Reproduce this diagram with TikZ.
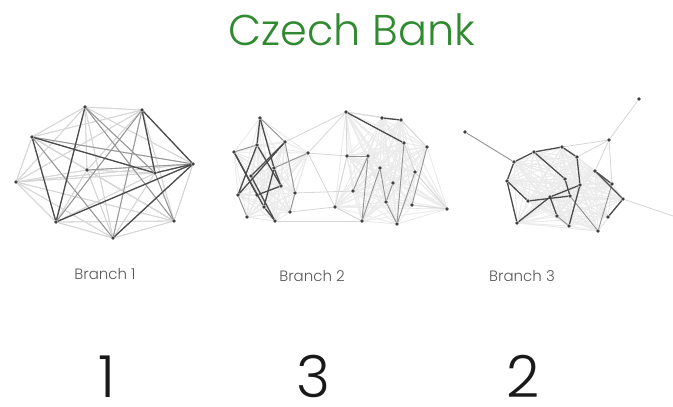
\documentclass[tikz,border=0pt]{standalone}
\usepackage{fontspec}
\setmainfont{Poppins}[UprightFont={* Light}]
\usepackage{tikz}
\usetikzlibrary{backgrounds}
\definecolor{bankgreen}{RGB}{48,138,48}
\tikzset{
    vert/.style = {circle, fill=black!75, inner sep=0pt, minimum size=3.8pt},
    faint-edge/.style = {draw=black!16, line width=0.8pt},
    ghost-edge/.style = {draw=black!8, line width=0.6pt},
    mid-edge/.style = {draw=black!42, line width=0.9pt},
    hard-edge/.style = {draw=black!70, line width=1.3pt},
    branch-label/.style = {text=black!65, font=\fontsize{15}{17}\selectfont},
    rank-label/.style = {text=black!90, anchor=base, inner sep=0pt, font=\fontsize{58}{62}\selectfont},
}

\begin{document}
\begin{tikzpicture}[x=1pt,y=-1pt]
\useasboundingbox (0,0) rectangle (673,407);
\node[text=bankgreen, font=\fontsize{43}{47}\selectfont] (title) at (352,30) {Czech Bank};

% branch 1
\foreach \n/\x/\y in {a1/85/107, b1/142/110, c1/32/137, d1/193/164, e1/87/170,
    f1/155/173, g1/16/182, h1/56/222, i1/174/221, j1/113/238}
    \node[vert] (\n) at (\x,\y) {};

% branch 2, left group
\foreach \n/\x/\y in {p1/260/118, p2/257/145, p3/285/142, p4/234/152, p5/308/153,
    p6/274/168, p7/251/176, p8/281/186, p9/238/195, p10/257/195, p11/295/193,
    p12/264/207, p13/290/212, p14/247/217, p15/275/221}
    \node[vert] (\n) at (\x,\y) {};
% branch 2, right group
\foreach \n/\x/\y in {q1/346/112, q2/382/118, q3/401/120, q4/404/143, q5/427/147,
    q6/347/156, q7/368/156, q8/380/168, q9/415/172, q10/393/183, q11/353/191,
    q12/386/202, q13/412/205, q14/335/207, q15/362/221, q16/397/224, q17/447/209}
    \node[vert] (\n) at (\x,\y) {};

% branch 3
\foreach \n/\x/\y in {r1/465/132, r2/639/99, r3/609/140, r4/514/162, r5/534/152,
    r6/562/147, r7/577/157, r8/507/181, r9/595/171, r10/565/179, r11/580/185,
    r12/612/184, r13/528/201, r14/570/196, r15/550/197, r16/623/199, r17/557/216,
    r18/608/217, r19/517/223, r20/569/226, r21/598/231}
    \node[vert] (\n) at (\x,\y) {};
\coordinate (r-out) at (676,217);

\begin{scope}[on background layer]
\fill[white] (0,0) rectangle (673,407);
% light links inside each group
\foreach \u in {a1,b1,c1,d1,e1,f1,g1,h1,i1,j1}
    \foreach \v in {a1,b1,c1,d1,e1,f1,g1,h1,i1,j1}
        {\ifx\u\v\else\draw[faint-edge] (\u) -- (\v);\fi}
\foreach \u in {p1,p2,p3,p4,p5,p6,p7,p8,p9,p10,p11,p12,p13,p14,p15}
    \foreach \v in {p1,p2,p3,p4,p5,p6,p7,p8,p9,p10,p11,p12,p13,p14,p15}
        {\ifx\u\v\else\draw[ghost-edge] (\u) -- (\v);\fi}
\foreach \u in {q1,q2,q3,q4,q5,q6,q7,q8,q9,q10,q11,q12,q13,q14,q15,q16,q17}
    \foreach \v in {q1,q2,q3,q4,q5,q6,q7,q8,q9,q10,q11,q12,q13,q14,q15,q16,q17}
        {\ifx\u\v\else\draw[ghost-edge] (\u) -- (\v);\fi}
\foreach \u in {r4,r5,r6,r7,r8,r9,r10,r11,r12,r13,r14,r15,r16,r17,r18,r19,r20,r21}
    \foreach \v in {r4,r5,r6,r7,r8,r9,r10,r11,r12,r13,r14,r15,r16,r17,r18,r19,r20,r21}
        {\ifx\u\v\else\draw[ghost-edge] (\u) -- (\v);\fi}
\foreach \u/\v in {p5/q1, p5/q6, p5/q14, p13/q14, p11/q11, p15/q15, p3/q1,
    q1/q6, q1/q3, q3/q5, q4/q9, q9/q17, q13/q17, q14/q15, q6/q14,
    r3/r6, r3/r9, r3/r12, r3/r7, r2/r3, r16/r-out}
    \draw[faint-edge] (\u) -- (\v);

% heavier links
\foreach \u/\v in {b1/h1, b1/j1, c1/j1, a1/i1, a1/f1, e1/d1, f1/i1, c1/d1,
    p5/p6, p3/p11, p1/p3, p9/p14, p4/p2, p11/p13,
    q6/q7, q7/q15, q8/q12, q5/q13, q9/q16, q7/q11, q8/q15, q10/q12, q12/q16, q4/q16,
    r1/r4, r14/r21, r17/r20, r12/r21}
    \draw[mid-edge] (\u) -- (\v);
\foreach \u/\v in {a1/h1, c1/h1, c1/f1, f1/d1, b1/d1, b1/f1, h1/d1, j1/d1,
    p1/p2, p1/p6, p2/p8, p4/p10, p3/p7, p9/p3, p2/p9, p7/p15, p10/p8, p6/p12,
    p12/p15, p6/p8, p4/p12,
    q1/q4, q2/q3,
    r4/r5, r5/r6, r4/r8, r8/r19, r19/r15, r5/r10, r6/r7, r7/r11, r9/r16, r9/r12,
    r15/r11, r13/r14, r10/r14, r16/r18, r11/r20, r8/r13, r17/r15}
    \draw[hard-edge] (\u) -- (\v);
\end{scope}

\node[branch-label] (lab1) at (105,274) {Branch 1};
\node[branch-label] (lab2) at (312,276) {Branch 2};
\node[branch-label] (lab3) at (522,276) {Branch 3};

\node[rank-label] (rank1) at (107,397) {1};
\node[rank-label] (rank2) at (313,397) {3};
\node[rank-label] (rank3) at (523,397) {2};
\end{tikzpicture}
\end{document}
